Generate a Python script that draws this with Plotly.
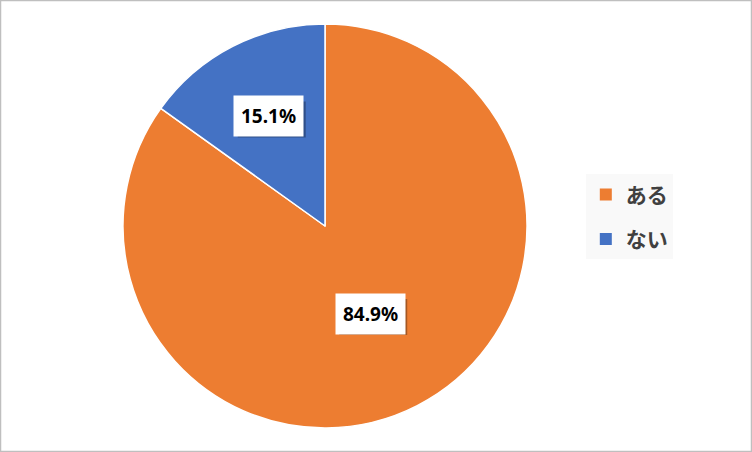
import math
import plotly.graph_objects as go

labels = ["ある", "ない"]
values = [84.9, 15.1]
colors = ["#ED7D31", "#4472C4"]
label_dist = [0.49, 0.61]  # fraction of radius for the data-label boxes

W, H = 752, 452
cx, cy, r = 325, 226, 202

fig = go.Figure()
fig.add_trace(go.Pie(
    labels=labels, values=values, sort=False, direction="clockwise", rotation=0,
    marker=dict(colors=colors, line=dict(color="white", width=1.5)),
    textinfo="none", hoverinfo="label+percent", showlegend=False,
    domain=dict(x=[(cx - r) / W, (cx + r) / W], y=[(H - cy - r) / H, (H - cy + r) / H]),
))
for l, c in zip(labels, colors):
    fig.add_trace(go.Scatter(x=[None], y=[None], mode="markers", name=l, legendgroup=l,
                             marker=dict(symbol="square", size=12, color=c)))

total = sum(values)
start = 0.0
anns, shapes = [], []
for v, d in zip(values, label_dist):
    mid = (start + v / 2) / total * 2 * math.pi
    start += v
    px = cx + d * r * math.sin(mid)
    py = H - cy + d * r * math.cos(mid)
    txt = f"{v / total * 100:.1f}%"
    font = dict(family="Noto Sans, Liberation Sans, sans-serif", size=19, color="black")
    anns.append(dict(xref="paper", yref="paper", x=px / W, y=py / H, showarrow=False,
                     xanchor="center", yanchor="middle", borderpad=7,
                     text=f"<b>{txt}</b>", bgcolor="white", font=font))
    shapes.append(dict(type="rect", xref="paper", yref="paper", xsizemode="pixel", ysizemode="pixel",
                       xanchor=px / W, yanchor=py / H, x0=-31, x1=37, y0=-21, y1=15,
                       fillcolor="rgba(0,0,0,0.3)", line=dict(width=0), layer="above"))

shapes.append(dict(type="rect", xref="paper", yref="paper", x0=0, y0=0, x1=1, y1=1,
                   line=dict(color="#BFBFBF", width=2.5)))

fig.update_layout(
    width=W, height=H, margin=dict(l=0, r=0, t=0, b=0),
    paper_bgcolor="white", plot_bgcolor="white",
    xaxis=dict(visible=False), yaxis=dict(visible=False),
    annotations=anns, shapes=shapes,
    legend=dict(x=0.779, y=0.52, xanchor="left", yanchor="middle",
                bgcolor="#F9F9F9", borderwidth=0,
                font=dict(family="Noto Sans CJK JP", size=21, color="#404040", weight="bold"),
                itemwidth=30, tracegroupgap=14),
)
fig.write_html("out.html", config={"displayModeBar": False},
               post_script="document.body.style.margin='0';")
